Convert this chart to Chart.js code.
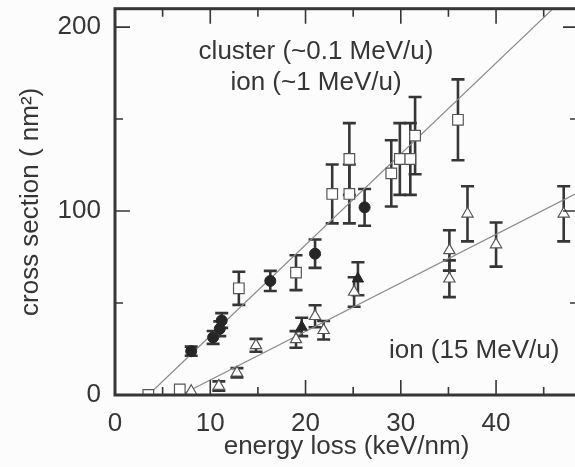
<!DOCTYPE html>
<html>
<head>
<meta charset="utf-8">
<script src="https://cdn.jsdelivr.net/npm/chart.js@4"></script>
<style>
  html, body { margin: 0; padding: 0; background: #fcfcfc; }
  #wrap { width: 575px; height: 467px; overflow: hidden; }
  canvas { display: block; }
</style>
</head>
<body>
<div id="wrap"><canvas id="chart" width="600" height="467"></canvas></div>
<script>
// Open squares: cluster (~0.1 MeV/u)
const squareX = [3.5, 6.8, 13.0, 19.0, 22.8, 24.6, 24.6, 29.0, 29.9, 31.0, 31.5, 36.0];
const squareY = [0, 3, 58, 66.5, 109.3, 109.3, 128.3, 120.5, 128.3, 128.3, 141, 149.6];
const squareErr = [0, 0, 9, 9.5, 16, 16, 19.5, 18, 19.5, 19.5, 21, 22];

// Filled circles: ion (~1 MeV/u)
const circleX = [8.0, 10.3, 11.0, 11.2, 16.3, 21.0, 26.2];
const circleY = [23.8, 31.3, 36, 40.5, 62, 76.8, 102];
const circleErr = [2.5, 3.5, 4, 4, 5.5, 7.7, 10];

// Open triangles: ion (15 MeV/u)
const triX = [7.0, 8.0, 10.9, 12.8, 14.8, 19.0, 21.0, 21.9, 25.1, 35.1, 35.1, 37.0, 40.0, 47.1];
const triY = [1, 2, 4.9, 12.1, 27, 30.2, 42.8, 35.2, 56, 78.6, 63.2, 98.5, 81.8, 98.5];
const triErr = [0, 0, 2.5, 2.5, 3.5, 4.5, 6, 5, 8, 11, 10, 15, 12, 15];

// Filled triangles
const triFillX = [19.6, 25.5];
const triFillY = [37, 63.2];
const triFillErr = [5, 9];

// Fitted lines (end points)
const fitFastX = [3.5, 48.6];
const fitFastY = [0, 223];
const fitSlowX = [6.9, 48.6];
const fitSlowY = [0, 110];

// Axis ticks
const xMajor = [0, 10, 20, 30, 40, 50];
const xMinor = [5, 15, 25, 35, 45];
const yMajor = [0, 100, 200];
const yMinor = [50, 150];

const notes = [
  { text: "cluster (~0.1 MeV/u)", x: 21.1, y: 186.4 },
  { text: "ion (~1 MeV/u)", x: 21.1, y: 169.6 },
  { text: "ion (15 MeV/u)", x: 37.7, y: 23.8 }
];

const ink = "#363636";
const font = { family: "'Liberation Sans', Arial, sans-serif", size: 26 };

function pts(xs, ys) {
  return xs.map((x, i) => ({ x: x, y: ys[i] }));
}

// vertical error bars with caps, under the markers
const errorBars = {
  id: "errorBars",
  beforeDatasetsDraw(chart) {
    const { ctx, chartArea, scales: { x, y } } = chart;
    ctx.save();
    ctx.beginPath();
    ctx.rect(chartArea.left, chartArea.top, chartArea.right - chartArea.left, chartArea.bottom - chartArea.top);
    ctx.clip();
    ctx.strokeStyle = ink;
    ctx.lineWidth = 2.6;
    chart.data.datasets.forEach(ds => {
      if (!ds.errors) return;
      ds.data.forEach((p, i) => {
        const e = ds.errors[i];
        if (!e) return;
        const px = x.getPixelForValue(p.x);
        const top = y.getPixelForValue(p.y + e);
        const bot = y.getPixelForValue(p.y - e);
        ctx.beginPath();
        ctx.moveTo(px, top); ctx.lineTo(px, bot);
        ctx.moveTo(px - 6.5, top); ctx.lineTo(px + 6.5, top);
        ctx.moveTo(px - 6.5, bot); ctx.lineTo(px + 6.5, bot);
        ctx.stroke();
      });
    });
    ctx.restore();
  }
};

// box frame with inward ticks on all four sides, plus the text notes
const frame = {
  id: "frame",
  afterDraw(chart) {
    const { ctx, chartArea: a, scales: { x, y } } = chart;
    ctx.save();
    ctx.strokeStyle = ink;
    ctx.lineWidth = 1.6;
    ctx.beginPath();
    const tx = (v, len) => {
      const px = x.getPixelForValue(v);
      ctx.moveTo(px, a.bottom); ctx.lineTo(px, a.bottom - len);
      ctx.moveTo(px, a.top); ctx.lineTo(px, a.top + len);
    };
    const ty = (v, len) => {
      const py = y.getPixelForValue(v);
      ctx.moveTo(a.left, py); ctx.lineTo(a.left + len, py);
      ctx.moveTo(a.right, py); ctx.lineTo(a.right - len, py);
    };
    xMajor.forEach(v => tx(v, 15));
    xMinor.forEach(v => tx(v, 8));
    yMajor.forEach(v => ty(v, 15));
    yMinor.forEach(v => ty(v, 8));
    ctx.stroke();

    ctx.lineWidth = 3;
    ctx.strokeRect(a.left, a.top, a.right - a.left, a.bottom - a.top);

    ctx.fillStyle = ink;
    ctx.font = font.size + "px " + font.family;
    ctx.textAlign = "center";
    ctx.textBaseline = "middle";
    notes.forEach(n => {
      ctx.fillText(n.text, x.getPixelForValue(n.x), y.getPixelForValue(n.y));
    });
    ctx.restore();
  }
};

new Chart(document.getElementById("chart"), {
  type: "scatter",
  data: {
    datasets: [
      {
        data: pts(squareX, squareY), errors: squareErr,
        pointStyle: "rect", pointRadius: 7.5,
        backgroundColor: "#ffffff", borderColor: "#555555", borderWidth: 1.2
      },
      {
        data: pts(circleX, circleY), errors: circleErr,
        pointStyle: "circle", pointRadius: 5.5,
        backgroundColor: "#262626", borderColor: "#262626", borderWidth: 1
      },
      {
        data: pts(triFillX, triFillY), errors: triFillErr,
        pointStyle: "triangle", pointRadius: 6.5,
        backgroundColor: "#262626", borderColor: "#262626", borderWidth: 1
      },
      {
        data: pts(triX, triY), errors: triErr,
        pointStyle: "triangle", pointRadius: 6.5,
        backgroundColor: "#ffffff", borderColor: "#555555", borderWidth: 1.2
      },
      {
        data: pts(fitFastX, fitFastY), showLine: true, pointRadius: 0,
        borderColor: "#8a8a8a", borderWidth: 1.2
      },
      {
        data: pts(fitSlowX, fitSlowY), showLine: true, pointRadius: 0,
        borderColor: "#8a8a8a", borderWidth: 1.2
      }
    ]
  },
  options: {
    responsive: false,
    animation: false,
    devicePixelRatio: 1,
    layout: { padding: { top: 8, right: 22, left: 0, bottom: 0 } },
    plugins: { legend: { display: false }, tooltip: { enabled: false } },
    scales: {
      x: {
        type: "linear", min: 0, max: 48.6,
        grid: { display: false },
        border: { display: false },
        ticks: { padding: 5, color: ink, font: font, maxRotation: 0 },
        afterBuildTicks(scale) {
          scale.ticks = xMajor.filter(v => v <= scale.max).map(v => ({ value: v }));
        },
        title: { display: true, text: "energy loss (keV/nm)", color: ink, font: font, padding: { top: 0, bottom: 5 } },
        afterFit(scale) {
          scale.height = 72;
          scale.paddingLeft = 0;
          scale.paddingRight = 0;
        }
      },
      y: {
        type: "linear", min: 0, max: 210,
        grid: { display: false },
        border: { display: false },
        ticks: { padding: 6, color: ink, font: font },
        afterBuildTicks(scale) {
          scale.ticks = yMajor.map(v => ({ value: v }));
        },
        title: { display: true, text: "cross section ( nm²)", color: ink, font: font, padding: { top: 15, bottom: 0 } },
        afterFit(scale) {
          scale.width = 115;
          scale.paddingTop = 0;
          scale.paddingBottom = 0;
        }
      }
    }
  },
  plugins: [errorBars, frame]
});
</script>
</body>
</html>
